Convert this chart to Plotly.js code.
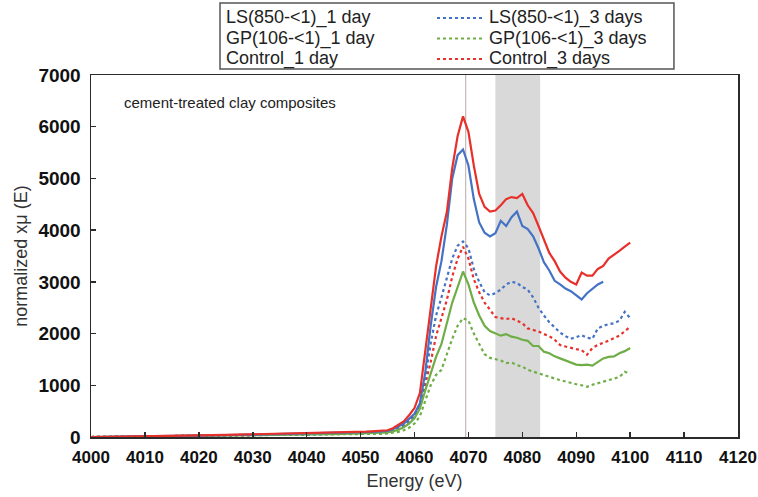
<!DOCTYPE html>
<html>
<head>
<meta charset="utf-8">
<script src="https://cdn.plot.ly/plotly-3.0.1.min.js"></script>
<style>
  html, body { margin: 0; padding: 0; background: #ffffff; }
  #chart { width: 758px; height: 497px; }
</style>
</head>
<body>
<div id="chart"></div>
<script>
// Sulfur K-edge XANES of cement-treated clay composites (normalized xμ(E))
const energy = [
  4000, 4005, 4010, 4015, 4020, 4025, 4030, 4035, 4040, 4045, 4050,
  4051, 4052, 4053, 4054, 4055, 4056, 4057, 4058, 4059, 4060,
  4061, 4062, 4063, 4064, 4065, 4066, 4067, 4068, 4069, 4070,
  4071, 4072, 4073, 4074, 4075, 4076, 4077, 4078, 4079, 4080,
  4081, 4082, 4083, 4084, 4085, 4086, 4087, 4088, 4089, 4090,
  4091, 4092, 4093, 4094, 4095, 4096, 4097, 4098, 4099, 4100
];

const ls1Day = [
  0, 5, 10, 15, 25, 35, 45, 55, 65, 75, 90,
  95, 100, 105, 110, 120, 150, 200, 260, 350, 450,
  650, 1250, 2150, 2900, 3400, 4100, 5000, 5450, 5560, 5250,
  4600, 4150, 3950, 3880, 3940, 4180, 4080, 4250, 4360, 4080,
  4020, 3880, 3650, 3380, 3220, 3020, 2950, 2870, 2820, 2740,
  2660, 2780, 2860, 2950, 3000, null, null, null, null, null
];

const ls3Days = [
  0, 5, 10, 15, 20, 25, 35, 40, 50, 60, 70,
  75, 80, 85, 90, 100, 120, 160, 220, 300, 420,
  650, 1150, 1800, 2350, 2700, 3100, 3450, 3700, 3780, 3650,
  3250, 3000, 2800, 2740, 2780, 2850, 2950, 3000, 2980, 2900,
  2850, 2700, 2500, 2350, 2220, 2120, 2020, 1950, 1900, 1930,
  1970, 1920, 1900, 2100, 2150, 2180, 2200, 2250, 2420, 2300
];

const gp1Day = [
  0, 5, 10, 15, 20, 25, 30, 40, 45, 55, 70,
  72, 75, 78, 82, 90, 110, 140, 190, 260, 360,
  550, 900, 1250, 1550, 1800, 2200, 2600, 2900, 3200, 2950,
  2600, 2350, 2150, 2050, 2000, 1960, 1990, 1940, 1920, 1880,
  1860, 1760, 1760, 1650, 1620, 1560, 1520, 1480, 1450, 1400,
  1390, 1400, 1380, 1450, 1520, 1550, 1560, 1620, 1660, 1720
];

const gp3Days = [
  0, 5, 8, 10, 15, 20, 25, 30, 35, 40, 50,
  52, 55, 58, 62, 70, 80, 100, 130, 180, 260,
  400, 700, 1000, 1200, 1300, 1600, 1900, 2150, 2300, 2250,
  2000, 1800, 1600, 1530, 1500, 1480, 1430, 1440, 1390, 1360,
  1300, 1260, 1230, 1200, 1160, 1130, 1100, 1070, 1040, 1020,
  1000, 970, 1010, 1040, 1070, 1090, 1130, 1160, 1260, 1220
];

const control1Day = [
  0, 5, 10, 20, 30, 40, 50, 60, 70, 85, 100,
  105, 110, 115, 120, 130, 170, 230, 300, 420, 560,
  850, 1650, 2500, 3300, 3880, 4350, 5200, 5820, 6200, 5900,
  5250, 4700, 4450, 4360, 4380, 4480, 4600, 4640, 4620, 4700,
  4480, 4330, 4080, 3800, 3560, 3400, 3200, 3080, 3000, 2950,
  3180, 3120, 3120, 3250, 3310, 3450, 3520, 3600, 3680, 3760
];

const control3Days = [
  0, 5, 10, 15, 20, 30, 40, 45, 55, 65, 80,
  85, 90, 95, 100, 110, 140, 180, 230, 320, 420,
  600, 1000, 1450, 1950, 2300, 2650, 3100, 3450, 3680, 3450,
  3050, 2800, 2600, 2450, 2320, 2300, 2280, 2300, 2250, 2200,
  2100, 2070, 2040, 1990, 1950, 1880, 1780, 1750, 1720, 1700,
  1680, 1590, 1720, 1780, 1820, 1860, 1910, 1960, 2050, 2130
];

const xTicks = [4000, 4010, 4020, 4030, 4040, 4050, 4060, 4070, 4080, 4090, 4100, 4110, 4120];
const yTicks = [0, 1000, 2000, 3000, 4000, 5000, 6000, 7000];

// highlighted energy window and the white-line reference energy
const highlightWindow = [4075, 4083.3];
const whiteLineEnergy = 4069.5;

const BLUE = '#4472C4';
const GREEN = '#6FAD47';
const RED = '#E8302A';
const FONT = 'Arial, "Liberation Sans", sans-serif';

// legend grid: row = sample, column 0 = 1 day (solid), column 1 = 3 days (dotted)
const series = [
  { name: 'LS(850-<1)_1 day',  y: ls1Day,       color: BLUE,  dash: 'solid', row: 0, col: 0 },
  { name: 'LS(850-<1)_3 days', y: ls3Days,      color: BLUE,  dash: 'dot',   row: 0, col: 1 },
  { name: 'GP(106-<1)_1 day',  y: gp1Day,       color: GREEN, dash: 'solid', row: 1, col: 0 },
  { name: 'GP(106-<1)_3 days', y: gp3Days,      color: GREEN, dash: 'dot',   row: 1, col: 1 },
  { name: 'Control_1 day',     y: control1Day,  color: RED,   dash: 'solid', row: 2, col: 0 },
  { name: 'Control_3 days',    y: control3Days, color: RED,   dash: 'dot',   row: 2, col: 1 }
];

// dotted curves underneath, solid curves on top
const drawOrder = [3, 5, 1, 2, 0, 4];
const traces = drawOrder.map(i => ({
  x: energy, y: series[i].y, type: 'scatter', mode: 'lines', name: series[i].name,
  line: { color: series[i].color, width: 2.2, dash: series[i].dash },
  showlegend: false, connectgaps: false
}));

// Legend box geometry in paper coordinates (above the plot area)
const legendBox = { x0: 0.1994, x1: 0.901, y0: 1.0166, y1: 1.199 };
const legendRowsY = [1.1575, 1.1008, 1.0442];
const legendTextX = [0.2056, 0.612];
const legendSampleX = [0.5348, 0.6043];

const legendShapes = [
  { type: 'rect', xref: 'paper', yref: 'paper', x0: legendBox.x0, x1: legendBox.x1,
    y0: legendBox.y0, y1: legendBox.y1, line: { color: '#555555', width: 1.5 },
    fillcolor: 'rgba(0,0,0,0)' }
];
const legendTexts = [];
series.forEach(s => {
  const yRow = legendRowsY[s.row];
  if (s.col === 1) {
    legendShapes.push({ type: 'line', xref: 'paper', yref: 'paper',
      x0: legendSampleX[0], x1: legendSampleX[1], y0: yRow, y1: yRow,
      line: { color: s.color, width: 2, dash: s.dash } });
  }
  legendTexts.push({ text: s.name, xref: 'paper', yref: 'paper', x: legendTextX[s.col], y: yRow,
    xanchor: 'left', yanchor: 'middle', showarrow: false,
    font: { family: FONT, size: 18, color: '#222222' } });
});

const axisCommon = {
  showline: true, linecolor: '#2b2b2b', linewidth: 1.5, mirror: true,
  ticks: 'inside', ticklen: 5, tickwidth: 1.5, tickcolor: '#2b2b2b',
  showgrid: false, zeroline: false
};

const layout = {
  width: 758, height: 497,
  margin: { l: 91, r: 20, t: 75, b: 60 },
  paper_bgcolor: '#ffffff', plot_bgcolor: '#ffffff',
  font: { family: FONT, color: '#222222' },
  showlegend: false,
  xaxis: Object.assign({}, axisCommon, {
    range: [4000, 4120], tickvals: xTicks, ticktext: xTicks.map(String),
    ticklabelstandoff: 4,
    tickfont: { family: FONT, size: 17, color: '#111111', weight: 'bold' },
    title: { text: 'Energy (eV)', font: { family: FONT, size: 18, color: '#333333' }, standoff: 8 }
  }),
  yaxis: Object.assign({}, axisCommon, {
    range: [0, 7000], tickvals: yTicks, ticktext: yTicks.map(String),
    ticklabelstandoff: 5,
    tickfont: { family: FONT, size: 19, color: '#111111', weight: 'bold' },
    title: { text: 'normalized xμ (E)', font: { family: FONT, size: 18, color: '#333333' }, standoff: 6 }
  }),
  shapes: [
    { type: 'rect', xref: 'x', yref: 'paper', x0: highlightWindow[0], x1: highlightWindow[1],
      y0: 0, y1: 1, fillcolor: '#d9d9d9', line: { width: 0 }, layer: 'below' },
    { type: 'line', xref: 'x', yref: 'paper', x0: whiteLineEnergy, x1: whiteLineEnergy,
      y0: 0, y1: 1, line: { color: '#b9a9a6', width: 1 }, layer: 'below' }
  ].concat(legendShapes),
  annotations: [
    { text: 'cement-treated clay composites', xref: 'paper', yref: 'paper',
      x: 0.048, y: 0.925, xanchor: 'left', yanchor: 'middle', showarrow: false,
      font: { family: FONT, size: 15, color: '#222222' } }
  ].concat(legendTexts)
};

Plotly.newPlot('chart', traces, layout, { displayModeBar: false, staticPlot: true });
</script>
</body>
</html>
